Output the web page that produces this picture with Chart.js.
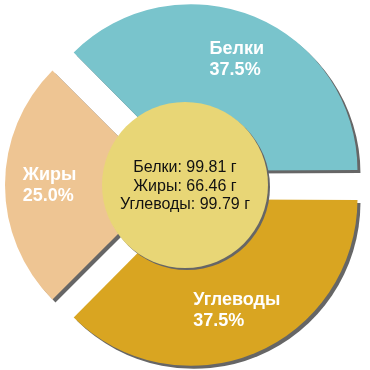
<!DOCTYPE html>
<html>
<head>
<meta charset="utf-8">
<script src="https://cdn.jsdelivr.net/npm/chart.js@4"></script>
<style>
  html, body { margin: 0; padding: 0; background: #fff; }
  #wrap { width: 370px; height: 370px; }
</style>
</head>
<body>
<div id="wrap"><canvas id="pie"></canvas></div>
<script>
const labels = ['Белки', 'Углеводы', 'Жиры'];
const percents = [37.5, 37.5, 25.0];
const centerLines = ['Белки: 99.81 г', 'Жиры: 66.46 г', 'Углеводы: 99.79 г'];
const colors = ['#79c4cc', '#d9a521', '#eec593'];
const offsets = [62, 62, 72];

// shadows for the slices + labels + the yellow disc in the middle
const decor = {
  id: 'decor',
  beforeDatasetsDraw(chart) {
    const c = chart.ctx;
    c.save();
    c.shadowColor = '#666';
    c.shadowOffsetX = 3;
    c.shadowOffsetY = 3;
    c.shadowBlur = 0;
  },
  afterDatasetsDraw(chart) {
    const c = chart.ctx;
    c.restore();
    const meta = chart.getDatasetMeta(0);
    const cx = meta.data[0].x, cy = meta.data[0].y;

    // center disc
    c.save();
    c.shadowColor = '#666';
    c.shadowOffsetX = 2;
    c.shadowOffsetY = 2;
    c.beginPath();
    c.arc(cx, cy, 83, 0, Math.PI * 2);
    c.fillStyle = '#e8d676';
    c.fill();
    c.restore();

    c.save();
    c.fillStyle = '#111';
    c.font = '16px "Liberation Sans", Arial, sans-serif';
    c.textAlign = 'center';
    c.textBaseline = 'alphabetic';
    centerLines.forEach((t, i) => c.fillText(t, cx, cy - 13 + i * 18.5));
    c.restore();

    // slice labels
    c.save();
    c.fillStyle = '#fff';
    c.font = 'bold 18px "Liberation Sans", Arial, sans-serif';
    c.textAlign = 'left';
    meta.data.forEach((arc, i) => {
      const p = arc.getProps(['x', 'y', 'startAngle', 'endAngle', 'outerRadius'], true);
      const mid = (p.startAngle + p.endAngle) / 2;
      const r = p.outerRadius * 0.836;
      const bx = p.x + Math.cos(mid) * r;
      const by = p.y + Math.sin(mid) * r - 1.5;
      const l1 = labels[i];
      const l2 = percents[i].toFixed(1) + '%';
      const w = Math.max(c.measureText(l1).width, c.measureText(l2).width);
      c.fillText(l1, bx - w / 2, by - 4);
      c.fillText(l2, bx - w / 2, by + 17);
    });
    c.restore();
  }
};

new Chart(document.getElementById('pie'), {
  type: 'pie',
  data: {
    labels: labels,
    datasets: [{
      data: percents,
      backgroundColor: colors,
      borderWidth: 0,
      offset: offsets,
      radius: 162
    }]
  },
  options: {
    responsive: true,
    maintainAspectRatio: false,
    animation: false,
    rotation: -45,
    layout: { padding: 0 },
    plugins: {
      legend: { display: false },
      tooltip: { enabled: false }
    }
  },
  plugins: [decor]
});
</script>
</body>
</html>
